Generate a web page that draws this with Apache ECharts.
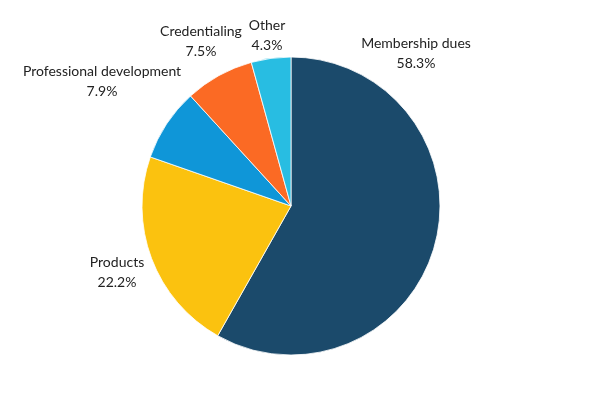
<!DOCTYPE html>
<html lang="en">
<head>
    <meta charset="UTF-8">
    <title>Revenue sources</title>
    <script src="https://cdn.jsdelivr.net/npm/echarts@6/dist/echarts.min.js"></script>
    <style>
        html, body { margin: 0; padding: 0; background: #fff; }
        #main { width: 600px; height: 400px; }
    </style>
</head>
<body>
<div id="main"></div>
<script>
    // data
    var categories = ['Membership dues', 'Products', 'Professional development', 'Credentialing', 'Other'];
    var shares = [58.3, 22.2, 7.9, 7.5, 4.3];
    var colors = ['#1b4a6b', '#fbc20f', '#0f96d8', '#fb6a24', '#28bde2'];

    // where each label sits (pixels)
    var labelPos = [[416, 53], [117, 272], [102, 81], [201, 41], [267, 35]];

    var chart = echarts.init(document.getElementById('main'));
    var pieData = categories.map(function (name, i) {
        return { name: name, value: shares[i], itemStyle: { color: colors[i] } };
    });

    var option = {
        backgroundColor: '#ffffff',
        animation: false,
        series: [{
            type: 'pie',
            center: [291, 206],
            radius: 149,
            startAngle: 90,
            clockwise: true,
            data: pieData,
            itemStyle: { borderColor: '#ffffff', borderWidth: 0.8 },
            label: {
                show: true,
                position: 'outside',
                formatter: '{b}\n{c}%',
                color: '#222222',
                fontFamily: 'Lato',
                fontSize: 14,
                lineHeight: 20,
                width: 300,
                overflow: 'none'
            },
            labelLine: { show: false },
            labelLayout: function (p) {
                var pos = labelPos[p.dataIndex];
                return { x: pos[0], y: pos[1], align: 'center', verticalAlign: 'middle' };
            }
        }]
    };
    chart.setOption(option);
</script>
</body>
</html>
